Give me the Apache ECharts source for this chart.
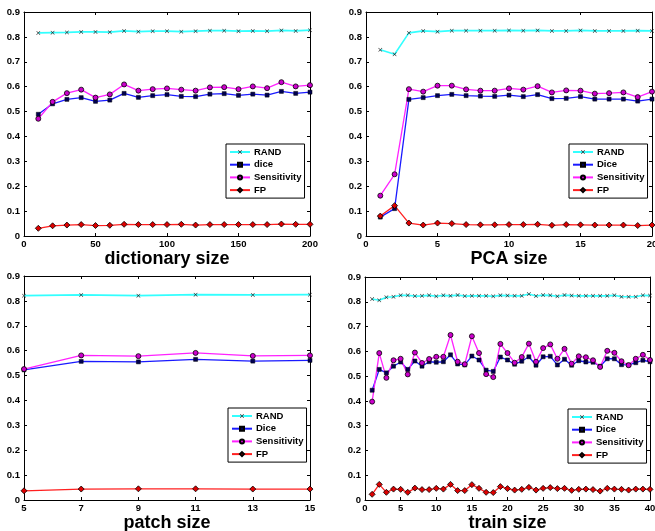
<!DOCTYPE html>
<html>
<head>
<meta charset="utf-8">
<script src="https://cdn.jsdelivr.net/npm/echarts@6/dist/echarts.min.js"></script>
<style>
html, body { margin: 0; padding: 0; background: #fff; }
#chart { width: 655px; height: 531px; }
</style>
</head>
<body>
<div id="chart"></div>
<script>
// dictionary size panel
var dictSizes = [10, 20, 30, 40, 50, 60, 70, 80, 90, 100, 110, 120, 130, 140, 150, 160, 170, 180, 190, 200]
var dictRand = [0.816, 0.817, 0.818, 0.820, 0.820, 0.819, 0.824, 0.821, 0.823, 0.823, 0.821, 0.823, 0.825, 0.825, 0.823, 0.824, 0.823, 0.826, 0.824, 0.827]
var dictDice = [0.489, 0.531, 0.549, 0.556, 0.541, 0.546, 0.573, 0.557, 0.564, 0.568, 0.561, 0.560, 0.570, 0.572, 0.565, 0.570, 0.566, 0.581, 0.573, 0.578]
var dictSens = [0.471, 0.539, 0.574, 0.588, 0.556, 0.569, 0.609, 0.584, 0.590, 0.593, 0.588, 0.584, 0.597, 0.598, 0.590, 0.601, 0.594, 0.618, 0.601, 0.606]
var dictFp = [0.031, 0.041, 0.044, 0.046, 0.042, 0.043, 0.047, 0.046, 0.046, 0.046, 0.047, 0.044, 0.046, 0.046, 0.046, 0.046, 0.046, 0.048, 0.047, 0.047]

// PCA size panel
var pcaSizes = [1, 2, 3, 4, 5, 6, 7, 8, 9, 10, 11, 12, 13, 14, 15, 16, 17, 18, 19, 20]
var pcaRand = [0.748, 0.730, 0.816, 0.824, 0.821, 0.825, 0.825, 0.825, 0.825, 0.826, 0.825, 0.826, 0.824, 0.824, 0.826, 0.824, 0.824, 0.824, 0.825, 0.824]
var pcaDice = [0.076, 0.110, 0.549, 0.556, 0.564, 0.569, 0.564, 0.562, 0.561, 0.566, 0.560, 0.568, 0.552, 0.553, 0.560, 0.550, 0.550, 0.550, 0.542, 0.550]
var pcaSens = [0.162, 0.248, 0.590, 0.580, 0.604, 0.604, 0.589, 0.584, 0.584, 0.593, 0.588, 0.602, 0.577, 0.585, 0.584, 0.572, 0.574, 0.577, 0.558, 0.580]
var pcaFp = [0.080, 0.122, 0.052, 0.044, 0.052, 0.050, 0.046, 0.045, 0.045, 0.046, 0.046, 0.047, 0.043, 0.046, 0.045, 0.044, 0.044, 0.044, 0.042, 0.044]

// patch size panel
var patchSizes = [5, 7, 9, 11, 13, 15]
var patchRand = [0.821, 0.824, 0.821, 0.825, 0.824, 0.825]
var patchDice = [0.523, 0.557, 0.555, 0.565, 0.558, 0.561]
var patchSens = [0.526, 0.581, 0.578, 0.591, 0.579, 0.581]
var patchFp = [0.037, 0.044, 0.045, 0.045, 0.044, 0.044]

// train size panel
var trainSizes = [1, 2, 3, 4, 5, 6, 7, 8, 9, 10, 11, 12, 13, 14, 15, 16, 17, 18, 19, 20,
  21, 22, 23, 24, 25, 26, 27, 28, 29, 30, 31, 32, 33, 34, 35, 36, 37, 38, 39, 40]
var trainRand = [0.811, 0.806, 0.818, 0.820, 0.826, 0.826, 0.823, 0.824, 0.826, 0.822,
  0.826, 0.824, 0.827, 0.823, 0.824, 0.824, 0.824, 0.822, 0.826, 0.825,
  0.824, 0.824, 0.831, 0.823, 0.827, 0.826, 0.822, 0.827, 0.825, 0.824,
  0.824, 0.824, 0.824, 0.824, 0.826, 0.820, 0.820, 0.820, 0.826, 0.825]
var trainDice = [0.443, 0.527, 0.513, 0.540, 0.557, 0.527, 0.561, 0.540, 0.558, 0.556,
  0.558, 0.586, 0.549, 0.545, 0.581, 0.565, 0.524, 0.519, 0.577, 0.565,
  0.548, 0.560, 0.578, 0.544, 0.578, 0.580, 0.545, 0.568, 0.544, 0.562,
  0.557, 0.556, 0.540, 0.570, 0.570, 0.546, 0.545, 0.554, 0.564, 0.558]
var trainSens = [0.397, 0.593, 0.493, 0.564, 0.570, 0.507, 0.595, 0.553, 0.569, 0.578,
  0.578, 0.666, 0.558, 0.548, 0.661, 0.593, 0.508, 0.496, 0.630, 0.593,
  0.554, 0.577, 0.631, 0.558, 0.613, 0.628, 0.570, 0.610, 0.550, 0.580,
  0.576, 0.564, 0.537, 0.602, 0.594, 0.560, 0.544, 0.570, 0.586, 0.565]
var trainFp = [0.023, 0.063, 0.031, 0.044, 0.043, 0.031, 0.048, 0.042, 0.042, 0.047,
  0.044, 0.063, 0.038, 0.038, 0.062, 0.047, 0.031, 0.030, 0.054, 0.046,
  0.040, 0.043, 0.051, 0.040, 0.047, 0.050, 0.046, 0.047, 0.039, 0.043,
  0.044, 0.042, 0.036, 0.047, 0.044, 0.043, 0.040, 0.044, 0.044, 0.043]

var yTicks = [0, 0.1, 0.2, 0.3, 0.4, 0.5, 0.6, 0.7, 0.8, 0.9]

var font = 'Liberation Sans, Arial, Helvetica, sans-serif'
var xMark = 'path://M0,1L1,0L5,4L9,0L10,1L6,5L10,9L9,10L5,6L1,10L0,9L4,5Z'

var panels = [
  { title: 'dictionary size', xs: dictSizes, rand: dictRand, dice: dictDice, sens: dictSens, fp: dictFp,
    diceName: 'dice', xmin: 0, xmax: 200, step: 50,
    grid: { left: 24, top: 12, width: 286, height: 224 }, legend: { left: 226, top: 144 } },
  { title: 'PCA size', xs: pcaSizes, rand: pcaRand, dice: pcaDice, sens: pcaSens, fp: pcaFp,
    diceName: 'Dice', xmin: 0, xmax: 20, step: 5,
    grid: { left: 366, top: 12, width: 286, height: 224 }, legend: { left: 569, top: 144 } },
  { title: 'patch size', xs: patchSizes, rand: patchRand, dice: patchDice, sens: patchSens, fp: patchFp,
    diceName: 'Dice', xmin: 5, xmax: 15, step: 2,
    grid: { left: 24, top: 276, width: 286, height: 224 }, legend: { left: 228, top: 408 } },
  { title: 'train size', xs: trainSizes, rand: trainRand, dice: trainDice, sens: trainSens, fp: trainFp,
    diceName: 'Dice', xmin: 0, xmax: 40, step: 5,
    grid: { left: 365, top: 277, width: 285, height: 223 }, legend: { left: 568, top: 409 } }
]

function pairs (xs, ys) {
  return xs.map(function (x, i) { return [x, ys[i]] })
}

var grids = []
var xAxes = []
var yAxes = []
var series = []
var legends = []

panels.forEach(function (p, gi) {
  grids.push({
    left: p.grid.left, top: p.grid.top, width: p.grid.width, height: p.grid.height,
    outerBoundsMode: 'none', show: false
  })
  var tick = { show: true, inside: true, length: 3, lineStyle: { color: '#000', width: 1 } }
  xAxes.push({
    type: 'value', gridIndex: gi, position: 'bottom', min: p.xmin, max: p.xmax, interval: p.step,
    name: p.title, nameLocation: 'middle', nameGap: 11,
    nameTextStyle: { fontFamily: font, fontWeight: 'bold', fontSize: 18, color: '#000', verticalAlign: 'top' },
    axisLine: { show: true, onZero: false, lineStyle: { color: '#000', width: 1 } },
    axisTick: tick, splitLine: { show: false },
    axisLabel: { fontFamily: font, fontWeight: 'bold', fontSize: 9.5, color: '#000', margin: 3,
      showMinLabel: true, showMaxLabel: true, hideOverlap: false }
  })
  xAxes.push({
    type: 'value', gridIndex: gi, position: 'top', min: p.xmin, max: p.xmax, interval: p.step,
    axisLine: { show: true, onZero: false, lineStyle: { color: '#000', width: 1 } },
    axisTick: tick, splitLine: { show: false }, axisLabel: { show: false }
  })
  yAxes.push({
    type: 'value', gridIndex: gi, position: 'left', min: 0, max: 0.9, interval: 0.1,
    axisLine: { show: true, onZero: false, lineStyle: { color: '#000', width: 1 } },
    axisTick: tick, splitLine: { show: false },
    axisLabel: { fontFamily: font, fontWeight: 'bold', fontSize: 9.5, color: '#000', margin: 4,
      showMinLabel: true, showMaxLabel: true,
      formatter: function (v) {
        var t = yTicks.find(function (k) { return Math.abs(k - v) < 1e-6 })
        return t === 0 ? '0' : t.toFixed(1)
      } }
  })
  yAxes.push({
    type: 'value', gridIndex: gi, position: 'right', min: 0, max: 0.9, interval: 0.1,
    axisLine: { show: true, onZero: false, lineStyle: { color: '#000', width: 1 } },
    axisTick: tick, splitLine: { show: false }, axisLabel: { show: false }
  })

  var xi = gi * 2
  var yi = gi * 2
  var base = { type: 'line', xAxisIndex: xi, yAxisIndex: yi, animation: false, showAllSymbol: true }
  series.push(Object.assign({}, base, {
    name: 'RAND', data: pairs(p.xs, p.rand), symbol: xMark, symbolSize: 4,
    lineStyle: { color: '#33ffff', width: 1.6 },
    itemStyle: { color: '#222', borderWidth: 0 }
  }))
  series.push(Object.assign({}, base, {
    name: p.diceName, data: pairs(p.xs, p.dice), symbol: 'rect', symbolSize: 4,
    lineStyle: { color: '#1a1aff', width: 1.3 },
    itemStyle: { color: '#000050', borderColor: '#000', borderWidth: 0.5 }
  }))
  series.push(Object.assign({}, base, {
    name: 'Sensitivity', data: pairs(p.xs, p.sens), symbol: 'circle', symbolSize: 5,
    lineStyle: { color: '#ff22ff', width: 1.3 },
    itemStyle: { color: '#cc00cc', borderColor: '#000', borderWidth: 0.8 }
  }))
  series.push(Object.assign({}, base, {
    name: 'FP', data: pairs(p.xs, p.fp), symbol: 'diamond', symbolSize: 6,
    lineStyle: { color: '#ff2020', width: 1.3 },
    itemStyle: { color: '#dd0000', borderColor: '#000', borderWidth: 0.8 }
  }))

  legends.push({
    data: ['RAND', p.diceName, 'Sensitivity', 'FP'],
    orient: 'vertical', left: p.legend.left, top: p.legend.top,
    itemWidth: 20, itemHeight: 5, itemGap: 2.7,
    padding: [3, 3, 3, 3],
    borderColor: '#000', borderWidth: 1, backgroundColor: '#fff',
    selectedMode: false,
    textStyle: { fontFamily: font, fontWeight: 'bold', fontSize: 9.5, lineHeight: 10, color: '#000', padding: [0, 0, 0, -1] }
  })
})

var myChart = echarts.init(document.getElementById('chart'), null, { renderer: 'canvas' })
myChart.setOption({
  backgroundColor: '#fff',
  animation: false,
  grid: grids,
  xAxis: xAxes,
  yAxis: yAxes,
  legend: legends,
  series: series
})
</script>
</body>
</html>
